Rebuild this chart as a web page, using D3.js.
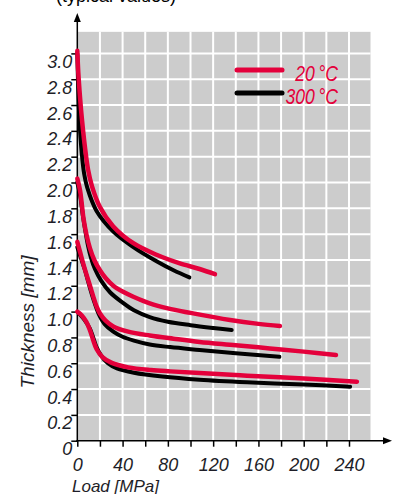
<!DOCTYPE html>
<html>
<head>
<meta charset="utf-8">
<script src="https://cdn.jsdelivr.net/npm/d3@7"></script>
<style>
  body { margin: 0; background: #fff; }
  svg { display: block; }
</style>
</head>
<body>
<div id="chart"></div>
<script>
// data: [load MPa, thickness mm]
const xTicks = [0, 40, 80, 120, 160, 200, 240]
const yTicks = [0, 0.2, 0.4, 0.6, 0.8, 1.0, 1.2, 1.4, 1.6, 1.8, 2.0, 2.2, 2.4, 2.6, 2.8, 3.0]
const seriesNames = ["20\u2009°C", "300\u2009°C"]

const red30 = [[0,3.02],[0.9,2.85],[2.5,2.65],[4.2,2.48],[6.8,2.27],[9.5,2.1],[13,1.97],[20,1.81],[31.8,1.66],[49.5,1.53],[70,1.44],[90,1.375],[108,1.33],[121.6,1.29]]
const black30 = [[0,3.0],[0.6,2.8],[1.8,2.5],[3.9,2.23],[6,2.07],[8.8,1.96],[17,1.78],[31.8,1.62],[49.5,1.5],[70,1.39],[85,1.32],[99,1.265]]

const red20 = [[0,2.03],[2.4,1.94],[4,1.83],[5.5,1.72],[8,1.6],[11.2,1.49],[15,1.4],[20,1.32],[25,1.26],[31.8,1.2],[40,1.155],[49.5,1.115],[64,1.064],[80,1.025],[100,0.99],[135,0.935],[160,0.905],[179,0.888]]
const black20 = [[0,2.0],[2.5,1.9],[4.8,1.75],[7,1.63],[9.5,1.51],[12,1.42],[15.6,1.33],[21,1.24],[28.9,1.15],[40,1.07],[50,1.01],[64,0.958],[80,0.922],[100,0.895],[120,0.873],[136.4,0.857]]

const red15 = [[0,1.54],[2.5,1.46],[5.3,1.37],[8,1.29],[11.2,1.2],[14,1.12],[17,1.04],[20,0.985],[25,0.93],[31.8,0.885],[45,0.845],[64,0.815],[85,0.79],[108,0.765],[140,0.74],[170,0.715],[200,0.69],[228.5,0.664]]
const black15 = [[0,1.5],[3,1.42],[6.8,1.32],[10,1.22],[13,1.13],[15.6,1.06],[19,0.98],[24,0.905],[31.8,0.845],[40,0.805],[50,0.775],[64,0.745],[82,0.725],[108,0.703],[140,0.677],[178.5,0.65]]

const red10 = [[0,1.0],[4,0.97],[8,0.92],[11,0.86],[14,0.78],[17,0.71],[22,0.65],[30,0.605],[45,0.568],[65,0.547],[82,0.537],[108,0.525],[150,0.503],[200,0.482],[247,0.457]]
const black10 = [[1,0.99],[6,0.94],[11,0.87],[14,0.8],[17,0.725],[21,0.66],[27,0.6],[35,0.56],[50,0.527],[75,0.497],[108,0.472],[150,0.452],[200,0.435],[241,0.418]]

const W = 396, H = 494
const red = "#e4003b"
const ink = "#1e1e28"
const font = "Liberation Sans, Arial, sans-serif"

const svg = d3.select("#chart").append("svg")
  .attr("width", W)
  .attr("height", H)

// scales
const x = d3.scaleLinear().domain([0, 240]).range([77.3, 349])
const y = d3.scaleLinear().domain([0, 3]).range([440.7, 53.4])

// gray plot area
svg.append("rect")
  .attr("x", x(0))
  .attr("y", y(3.167))
  .attr("width", x(259) - x(0))
  .attr("height", y(0) - y(3.167))
  .style("fill", "#cccccc")

// grid
svg.selectAll("line.vgrid")
  .data(d3.range(20, 241, 20))
  .enter().append("line")
  .attr("class", "vgrid")
  .attr("x1", d => x(d)).attr("x2", d => x(d))
  .attr("y1", y(0)).attr("y2", y(3.167))
  .style("stroke", "#fff").style("stroke-width", 2)

svg.selectAll("line.hgrid")
  .data(yTicks.filter(d => d > 0))
  .enter().append("line")
  .attr("class", "hgrid")
  .attr("x1", x(0)).attr("x2", x(259))
  .attr("y1", d => y(d)).attr("y2", d => y(d))
  .style("stroke", "#fff").style("stroke-width", 2)

// axes
const xAxis = d3.axisBottom(x)
  .tickValues(d3.range(0, 241, 20))
  .tickSize(6)
  .tickFormat(d => xTicks.includes(d) ? d : "")
const yAxis = d3.axisLeft(y)
  .tickValues(yTicks)
  .tickSize(6)
  .tickFormat(d => d === 0 ? "0" : d.toFixed(1))

const gx = svg.append("g")
  .attr("transform", "translate(0," + y(0) + ")")
  .call(xAxis)
gx.select(".domain").remove()
gx.selectAll("line").style("stroke", "#000").style("stroke-width", 1.5)
gx.selectAll("text")
  .attr("y", 17)
  .attr("dy", "0.72em")
  .style("font-family", font)
  .style("font-style", "italic")
  .style("font-size", "18px")
  .style("fill", ink)

const gy = svg.append("g")
  .attr("transform", "translate(" + x(0) + ",0)")
  .call(yAxis)
gy.select(".domain").remove()
gy.selectAll("line").style("stroke", "#000").style("stroke-width", 1.5)
gy.selectAll("text")
  .attr("x", -5)
  .attr("dy", "0.78em")
  .style("font-family", font)
  .style("font-style", "italic")
  .style("font-size", "18px")
  .style("fill", ink)

// axis lines with arrow heads
svg.append("line")
  .attr("x1", x(0)).attr("x2", x(0))
  .attr("y1", y(0) + 1).attr("y2", 20)
  .style("stroke", "#000").style("stroke-width", 1.5)
svg.append("path")
  .attr("d", "M" + x(0) + ",13 l-3.5,9 l7,0 z")
  .style("fill", "#000")
svg.append("line")
  .attr("x1", x(0) - 1).attr("x2", 385)
  .attr("y1", y(0)).attr("y2", y(0))
  .style("stroke", "#000").style("stroke-width", 1.5)
svg.append("path")
  .attr("d", "M392," + y(0) + " l-9,-3.5 l0,7 z")
  .style("fill", "#000")

// curves
const line = d3.line()
  .x(d => x(d[0]))
  .y(d => y(d[1]))
  .curve(d3.curveCatmullRom.alpha(0.5))

const blacks = [black30, black20, black15, black10]
const reds = [red30, red20, red15, red10]

svg.selectAll(".black-curve")
  .data(blacks)
  .enter().append("path")
  .attr("class", "black-curve")
  .attr("d", line)
  .style("fill", "none")
  .style("stroke", "#000")
  .style("stroke-width", 4)
  .style("stroke-linecap", "round")
  .style("stroke-linejoin", "round")

svg.selectAll(".red-curve")
  .data(reds)
  .enter().append("path")
  .attr("class", "red-curve")
  .attr("d", line)
  .style("fill", "none")
  .style("stroke", red)
  .style("stroke-width", 4.5)
  .style("stroke-linecap", "round")
  .style("stroke-linejoin", "round")

// legend
const legend = svg.append("g")
legend.selectAll("line")
  .data(seriesNames)
  .enter().append("line")
  .attr("x1", 237).attr("x2", 282)
  .attr("y1", (d, i) => 70 + i * 23)
  .attr("y2", (d, i) => 70 + i * 23)
  .style("stroke", (d, i) => i === 0 ? red : "#000")
  .style("stroke-width", 5)
  .style("stroke-linecap", "round")
legend.selectAll("text")
  .data(seriesNames)
  .enter().append("text")
  .attr("transform", (d, i) => "translate(338," + (81 + i * 23) + ") scale(0.8,1)")
  .style("text-anchor", "end")
  .style("font-family", font)
  .style("font-style", "italic")
  .style("font-size", "22px")
  .style("fill", red)
  .text(d => d)

// axis titles
svg.append("text")
  .attr("transform", "translate(34,322) rotate(-90)")
  .style("text-anchor", "middle")
  .style("font-family", font)
  .style("font-style", "italic")
  .style("font-size", "19px")
  .style("fill", ink)
  .text("Thickness [mm]")

svg.append("text")
  .attr("x", 72)
  .attr("y", 492)
  .style("font-family", font)
  .style("font-style", "italic")
  .style("font-size", "17px")
  .style("fill", ink)
  .text("Load [MPa]")

// title, mostly cut off at the top
svg.append("text")
  .attr("x", 116)
  .attr("y", 2)
  .style("text-anchor", "middle")
  .style("font-family", font)
  .style("font-size", "18px")
  .style("fill", "#000")
  .text("(typical values)")
</script>
</body>
</html>
